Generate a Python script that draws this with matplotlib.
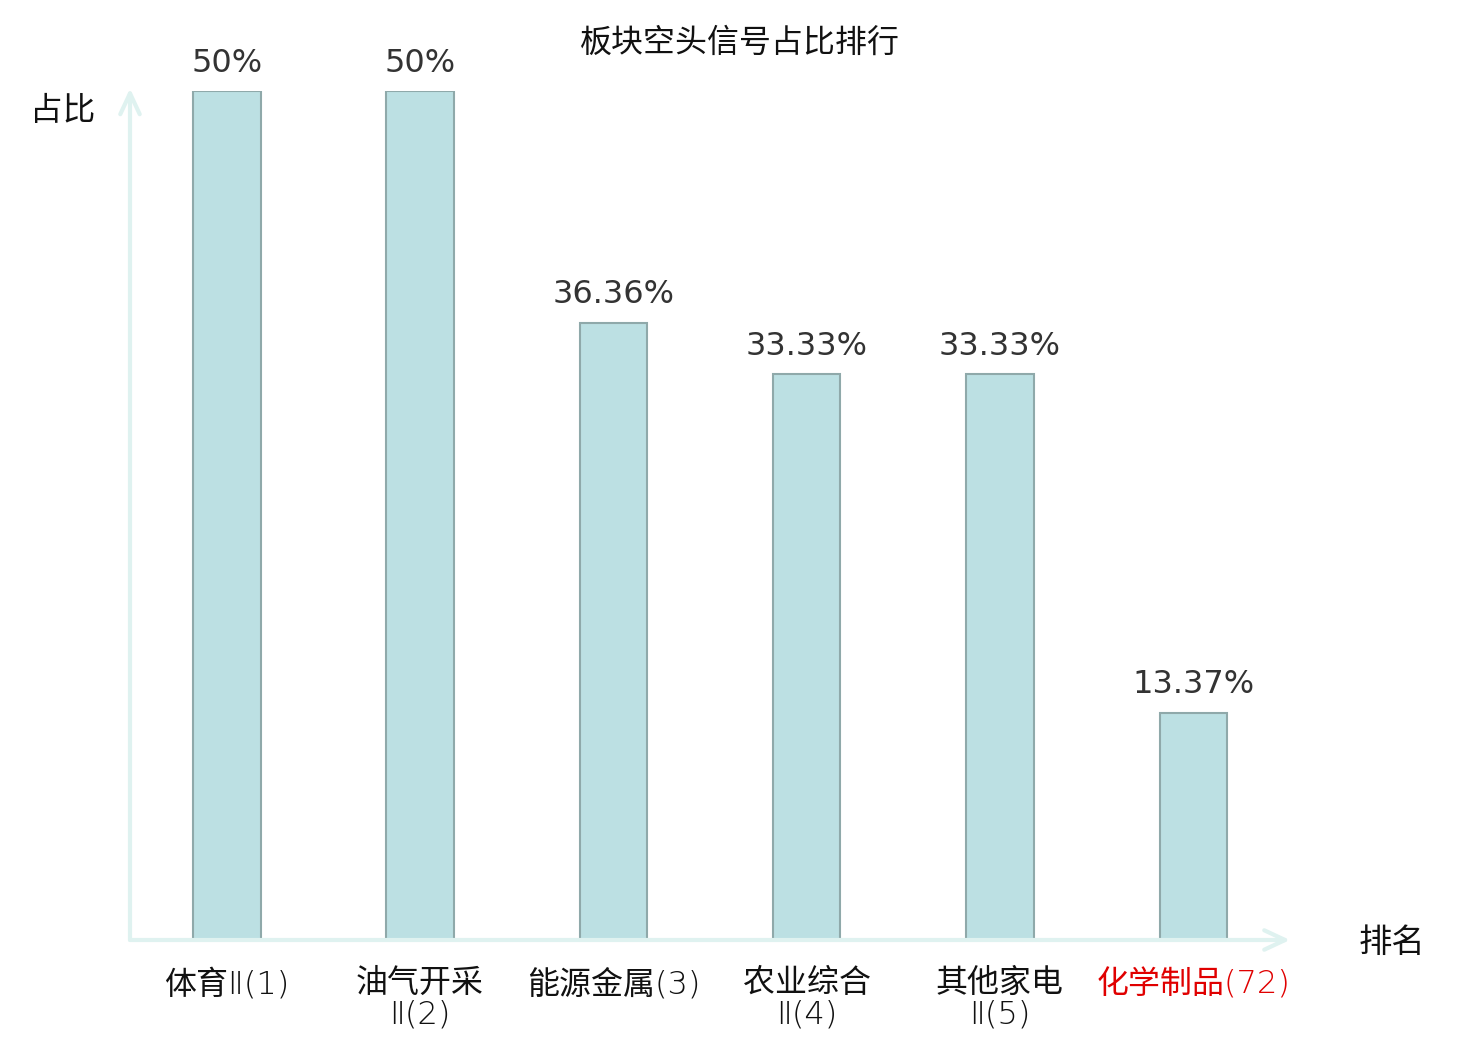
import matplotlib
matplotlib.use("Agg")
import matplotlib.pyplot as plt

plt.rcParams['font.family'] = ['Noto Sans CJK SC', 'DejaVu Sans']

categories = ["体育Ⅱ(1)", "油气开采\nⅡ(2)", "能源金属(3)", "农业综合\nⅡ(4)", "其他家电\nⅡ(5)", "化学制品(72)"]
values = [50, 50, 36.36, 33.33, 33.33, 13.37]
value_labels = ["50%", "50%", "36.36%", "33.33%", "33.33%", "13.37%"]
title = "板块空头信号占比排行"
y_name = "占比"
x_name = "排名"

fig = plt.figure(figsize=(14.8, 10.4), dpi=100)
ax = fig.add_axes([130/1480, 100/1040, 1160/1480, 849/1040])

x = list(range(len(categories)))
ax.bar(x, values, width=0.35, color='#bce0e3', edgecolor='#8fa9aa', linewidth=1.5, zorder=3)
ax.set_xlim(-0.5, 5.5)
ax.set_ylim(0, 50)

for s in ax.spines.values():
    s.set_visible(False)
ax.set_yticks([])
ax.set_xticks(x)
ticklabels = ax.set_xticklabels(categories, fontsize=23, linespacing=1.08, color='#111111',
                                family=['DejaVu Sans', 'Noto Sans CJK SC'], fontweight='ultralight')
ticklabels[-1].set_color('#e00000')
ax.tick_params(axis='x', length=0, pad=20)

axis_color = '#dff2f0'
arrow = dict(arrowstyle='->,head_length=1.5,head_width=0.7', color=axis_color, lw=3,
             shrinkA=0, shrinkB=0)
ax.annotate('', xy=(1.0, 0), xytext=(0, 0), xycoords='axes fraction',
            arrowprops=arrow, annotation_clip=False)
ax.annotate('', xy=(0, 1.003), xytext=(0, 0), xycoords='axes fraction',
            arrowprops=arrow, annotation_clip=False)

for xi, v, lab in zip(x, values, value_labels):
    ax.annotate(lab, xy=(xi, v), xytext=(0, 9), textcoords='offset points',
                ha='center', va='bottom', fontsize=23, color='#333333',
                family=['DejaVu Sans'], annotation_clip=False)

fig.text(740/1480, 1 - 43/1040, title, ha='center', va='center', fontsize=23, color='#111111')
fig.text(63/1480, 1 - 111/1040, y_name, ha='center', va='center', fontsize=23.5, color='#111111')
fig.text(1392/1480, 1 - 942/1040, x_name, ha='center', va='center', fontsize=24, color='#111111')

fig.savefig('out.png', dpi=100)
